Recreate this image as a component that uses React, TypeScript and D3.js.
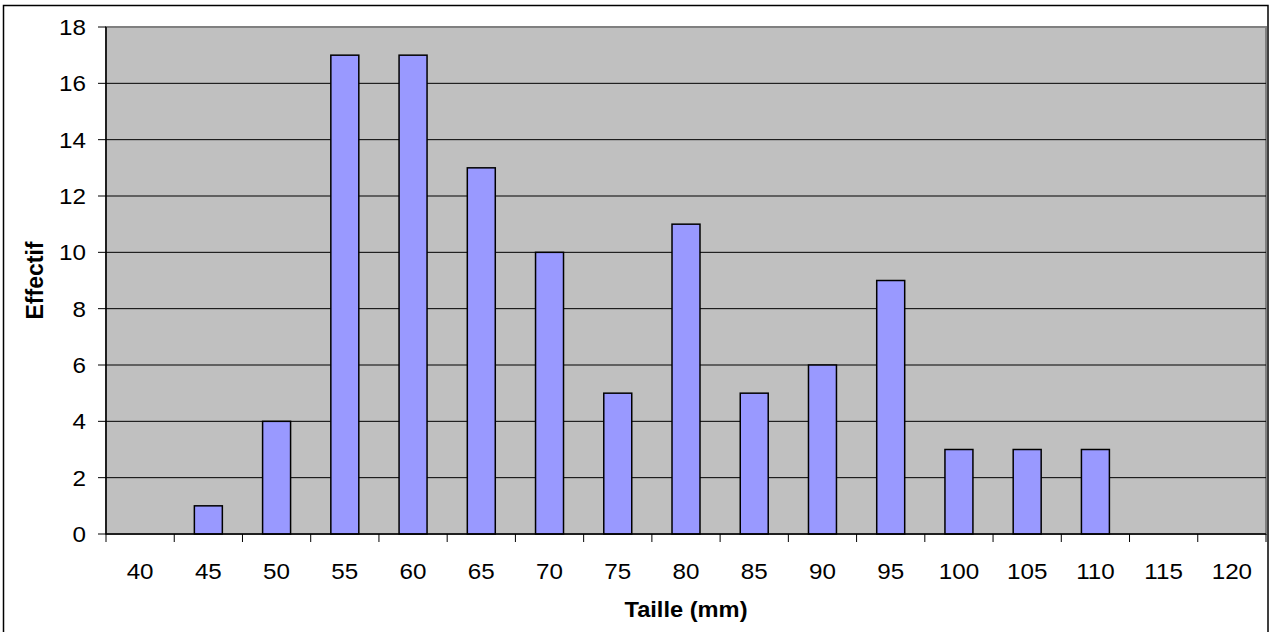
import React from "react";
import * as d3 from "d3";

const categories = ["40","45","50","55","60","65","70","75","80","85","90","95","100","105","110","115","120"];
const values = [0,1,4,17,17,13,10,5,11,5,6,9,3,3,3,0,0];
const yTicks = [0,2,4,6,8,10,12,14,16,18];
const xTitle = "Taille (mm)";
const yTitle = "Effectif";

const W = 1269, H = 632;
const M = { left: 106, right: 1266, top: 27, bottom: 534 };

export default function App() {
  const x = d3.scaleBand<string>().domain(categories).range([M.left, M.right]).paddingInner(0).paddingOuter(0);
  const y = d3.scaleLinear().domain([0, 18]).range([M.bottom, M.top]);
  const bw = x.bandwidth() * 0.41;
  const font = "'Liberation Sans', Arial, sans-serif";
  const boundaries = categories.map((c) => x(c)!).concat([M.right]);
  const midX = (M.left + M.right) / 2;
  return (
    <svg width={W} height={H} style={{ position: "absolute", left: 0, top: 0 }} fontFamily={font}>
      <rect x={0} y={0} width={W} height={H} fill="#fff" />
      <rect x={3.5} y={5.5} width={1264.5} height={630} fill="none" stroke="#000" strokeWidth={1.5} />
      <rect x={M.left} y={M.top} width={M.right - M.left} height={M.bottom - M.top} fill="#C0C0C0" stroke="#808080" strokeWidth={2} />
      {yTicks.filter((t) => t > 0 && t < 18).map((t) => (
        <line key={t} x1={M.left} x2={M.right} y1={y(t)} y2={y(t)} stroke="#000" strokeWidth={1} />
      ))}
      {categories.map((c, i) => values[i] > 0 ? (
        <rect key={c} x={x(c)! + (x.bandwidth() - bw) / 2} y={y(values[i])} width={bw} height={y(0) - y(values[i])}
          fill="#9999FF" stroke="#000" strokeWidth={1.5} />
      ) : null)}
      <line x1={M.left} x2={M.left} y1={M.top} y2={M.bottom} stroke="#000" strokeWidth={1.5} />
      {yTicks.map((t) => (
        <g key={t}>
          <line x1={98} x2={M.left} y1={y(t)} y2={y(t)} stroke="#000" strokeWidth={1} />
          <text x={86} y={y(t)} dy="0.36em" textAnchor="end" fontSize={22} fill="#000"
            transform={`translate(86,0) scale(1.1,1) translate(-86,0)`}>{t}</text>
        </g>
      ))}
      <line x1={M.left} x2={M.right} y1={M.bottom} y2={M.bottom} stroke="#000" strokeWidth={1.5} />
      {boundaries.map((b, i) => (
        <line key={i} x1={b} x2={b} y1={M.bottom} y2={M.bottom + 8} stroke="#000" strokeWidth={1} />
      ))}
      {categories.map((c) => {
        const cx = x(c)! + x.bandwidth() / 2;
        return (
          <text key={c} x={cx} y={579} textAnchor="middle" fontSize={22} fill="#000"
            transform={`translate(${cx},0) scale(1.1,1) translate(${-cx},0)`}>{c}</text>
        );
      })}
      <text x={midX} y={617} textAnchor="middle" fontSize={21.5} fontWeight="bold" fill="#000"
        transform={`translate(${midX},0) scale(1.1,1) translate(${-midX},0)`}>{xTitle}</text>
      <text transform={`translate(42.5,${(M.top + M.bottom) / 2}) rotate(-90) scale(1,1.05)`} x={0} y={0} textAnchor="middle"
        fontSize={23} fontWeight="bold" fill="#000">{yTitle}</text>
    </svg>
  );
}
